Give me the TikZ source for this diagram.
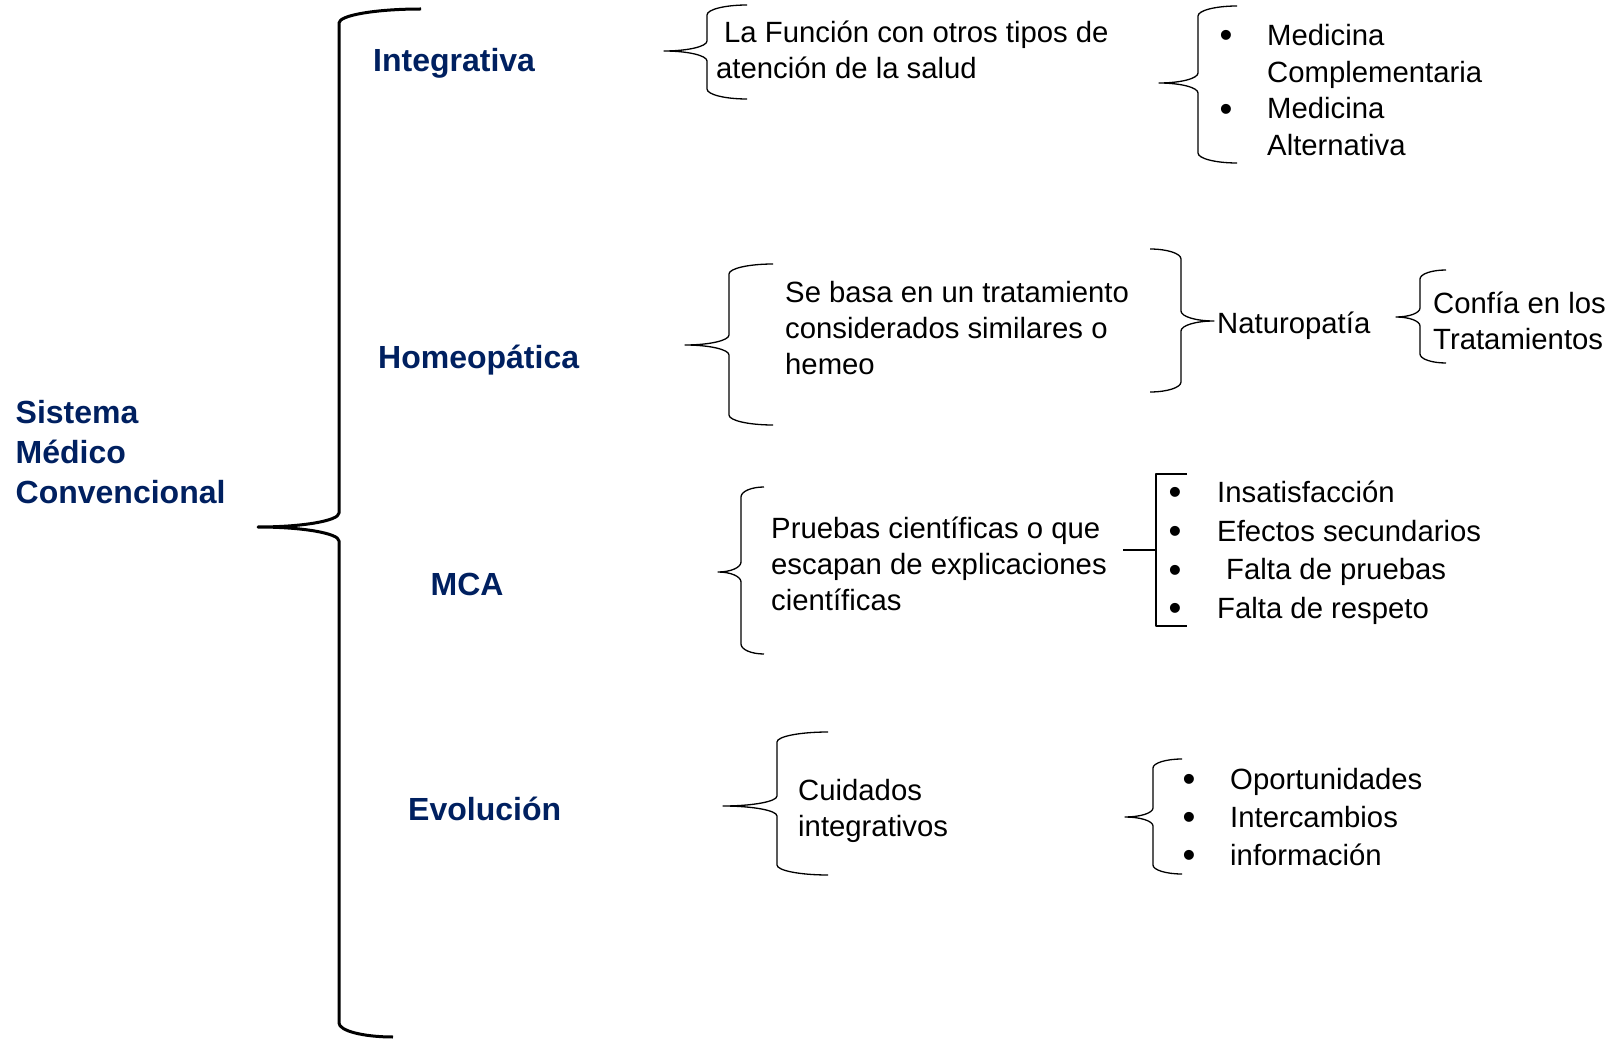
\documentclass[tikz,border=0pt]{standalone}
\usepackage{fontspec}
\setmainfont{Liberation Sans}
\definecolor{navy}{RGB}{0,32,96}
% #1 style, #2 X (vertical line), #3 top y, #4 bottom y, #5 tip x, #6 tip y, #7 top arm end x, #8 bottom arm end x, #9 corner size
\newcommand{\curlybr}[9]{%
\draw[#1] (#7,#3) .. controls ({#7-0.552*(#7-#2)},#3) and (#2,{#3+#9-0.552*#9}) .. (#2,{#3+#9})
 -- (#2,{#6-#9}) .. controls (#2,{#6-#9+0.552*#9}) and ({#5+0.552*(#2-#5)},#6) .. (#5,#6)
 .. controls ({#5+0.552*(#2-#5)},#6) and (#2,{#6+#9-0.552*#9}) .. (#2,{#6+#9})
 -- (#2,{#4-#9}) .. controls (#2,{#4-#9+0.552*#9}) and ({#8-0.552*(#8-#2)},#4) .. (#8,#4);}
\newcommand{\bul}{\raisebox{-2.3pt}{\scalebox{1.25}{•}}}
\tikzset{
 lbl/.style={font=\fontsize{32}{40}\selectfont\bfseries, text=navy, inner sep=0pt, anchor=base west},
 txt/.style={font=\fontsize{29.3}{36}\selectfont, inner sep=0pt, anchor=base west},
 lst/.style={font=\fontsize{29.3}{36.7}\selectfont, inner sep=0pt, anchor=base west},
 thinbr/.style={line width=1.3pt, line join=round},
 mainbr/.style={line width=3pt, line join=round}
}
\begin{document}
\begin{tikzpicture}[x=1pt,y=-1pt]
\useasboundingbox (0,0) rectangle (1615,1040);
% main brace
\curlybr{mainbr}{339}{9}{1037}{258}{527}{421}{393}{14}
\begin{scope}[yshift=-1.5pt]
% level 1 labels
\node[lbl] (sis) at (15.5,422) {\begin{tabular}[t]{@{}l@{}}Sistema\\Médico\\Convencional\end{tabular}};
\node[lbl] (int) at (373,70) {Integrativa};
\node[lbl] (hom) at (378,367) {Homeopática};
\node[lbl] (mca) at (430.5,594) {MCA};
\node[lbl] (evo) at (408,819) {Evolución};
% texts
\node[txt] (fun) at (716,41) {\begin{tabular}[t]{@{}l@{}}\hspace*{8pt}La Función con otros tipos de\\atención de la salud\end{tabular}};
\node[lst] (med) at (1219.5,44) {\begin{tabular}[t]{@{}p{47.5pt}@{}l@{}}\bul&Medicina\\&Complementaria\\\bul&Medicina\\&Alternativa\end{tabular}};
\node[txt] (sebasa) at (785,301.5) {\begin{tabular}[t]{@{}l@{}}Se basa en un tratamiento\\considerados similares o\\hemeo\end{tabular}};
\node[txt] (nat) at (1217,332) {Naturopatía};
\node[txt] (conf) at (1433,312) {\begin{tabular}[t]{@{}l@{}}Confía en los\\Tratamientos\end{tabular}};
\node[txt] (prue) at (771,537) {\begin{tabular}[t]{@{}l@{}}Pruebas científicas o que\\escapan de explicaciones\\científicas\end{tabular}};
\node[lst, font=\fontsize{29.3}{38.7}\selectfont] (ins) at (1168.5,501) {\begin{tabular}[t]{@{}p{48.5pt}@{}l@{}}\bul&Insatisfacción\\\bul&Efectos secundarios\\\bul&\hspace*{9pt}Falta de pruebas\\\bul&Falta de respeto\end{tabular}};
\node[txt] (cui) at (798,799) {\begin{tabular}[t]{@{}l@{}}Cuidados\\integrativos\end{tabular}};
\node[lst, font=\fontsize{29.3}{38}\selectfont] (opo) at (1182.5,788) {\begin{tabular}[t]{@{}p{47.5pt}@{}l@{}}\bul&Oportunidades\\\bul&Intercambios\\\bul&información\end{tabular}};
\end{scope}
% braces
\curlybr{thinbr}{707}{5}{99}{664}{51}{747}{747}{10}
\curlybr{thinbr}{1198}{6}{163}{1159}{83}{1237}{1237}{10}
\curlybr{thinbr}{729}{264}{425}{685}{345}{773}{773}{10}
\curlybr{thinbr}{1181}{249}{392}{1214}{321}{1150}{1150}{10}
\curlybr{thinbr}{1420}{270}{363}{1396}{317}{1446}{1446}{9}
\curlybr{thinbr}{741}{487}{654}{718}{572}{764}{764}{10}
\coordinate (mcaend) at (1123,550);
\draw[thinbr] (mcaend) -- (1156,550);
\draw[thinbr] (1187,474) -- (1156,474) -- (1156,626) -- (1187,626);
\curlybr{thinbr}{777}{732}{875}{723}{806}{828}{828}{10}
\curlybr{thinbr}{1153}{759}{874}{1125}{817}{1182}{1182}{9}
\end{tikzpicture}
\end{document}
